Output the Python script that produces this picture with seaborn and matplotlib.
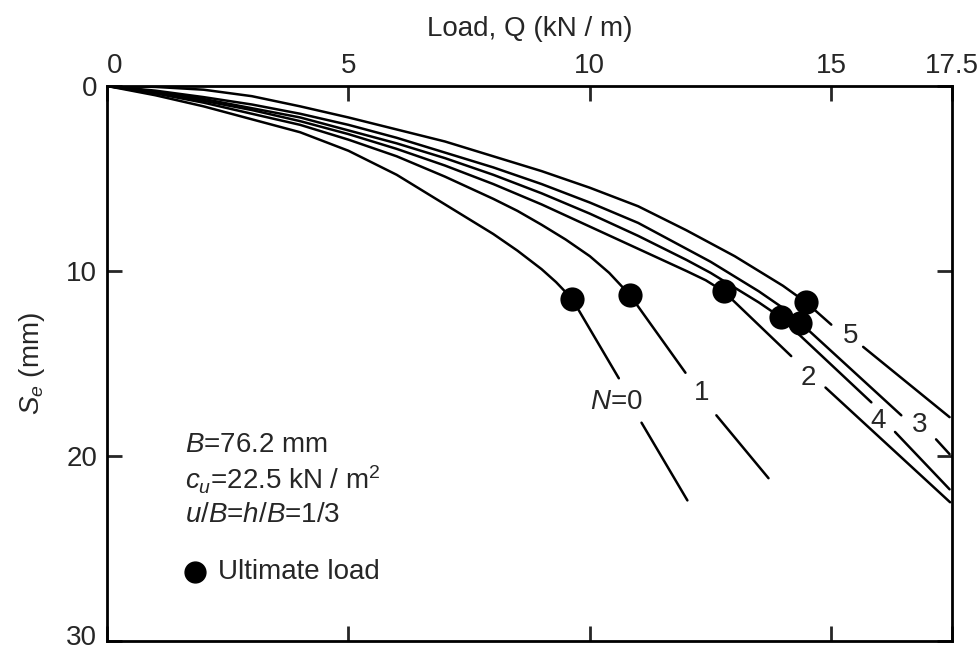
import matplotlib
matplotlib.use("Agg")
import matplotlib.pyplot as plt
from matplotlib.transforms import ScaledTranslation
import seaborn as sns

# Load Q (kN/m) vs settlement Se (mm); curves N = 0..5
n_labels = ["$N$=0", "1", "2", "3", "4", "5"]

q0 = [0, 1, 2, 3, 4, 5, 6, 7, 7.5, 8, 8.5, 9, 9.3, 9.63]
s0 = [0, 0.5, 1.1, 1.8, 2.5, 3.5, 4.8, 6.4, 7.2, 8.0, 8.9, 9.9, 10.6, 11.5]
q1 = [0, 1, 2, 3, 4, 5, 6, 7, 8, 8.5, 9, 9.5, 10, 10.4, 10.83]
s1 = [0, 0.4, 0.9, 1.5, 2.1, 2.9, 3.8, 4.9, 6.1, 6.75, 7.5, 8.3, 9.2, 10.1, 11.3]
q2 = [0, 1, 2, 3, 4, 5, 6, 7, 8, 9, 10, 10.5, 11, 11.5, 12, 12.4, 12.77]
s2 = [0, 0.35, 0.8, 1.3, 1.9, 2.6, 3.4, 4.3, 5.3, 6.4, 7.6, 8.2, 8.8, 9.4, 10.0, 10.5, 11.1]
q3 = [0, 1, 2, 3, 4, 5, 6, 7, 8, 9, 10, 11, 12, 12.5, 13, 13.5, 14, 14.36]
s3 = [0, 0.25, 0.6, 1.0, 1.5, 2.1, 2.8, 3.6, 4.4, 5.3, 6.3, 7.4, 8.8, 9.5, 10.3, 11.1, 12.0, 12.8]
q4 = [0, 1, 2, 3, 4, 5, 6, 7, 8, 9, 10, 11, 12, 12.5, 13, 13.5, 13.95]
s4 = [0, 0.3, 0.7, 1.2, 1.7, 2.4, 3.1, 3.9, 4.8, 5.8, 6.9, 8.1, 9.4, 10.1, 10.9, 11.7, 12.5]
q5 = [0, 1, 2, 3, 4, 5, 6, 7, 8, 9, 10, 11, 12, 12.5, 13, 13.5, 14, 14.48]
s5 = [0, 0.05, 0.2, 0.55, 1.1, 1.7, 2.35, 3.0, 3.8, 4.6, 5.5, 6.5, 7.8, 8.5, 9.2, 10.0, 10.8, 11.7]

# ultimate loads (dots)
ult_q = [9.63, 10.83, 12.77, 14.36, 13.95, 14.48]
ult_s = [11.5, 11.3, 11.1, 12.8, 12.5, 11.7]

# straight tails after the ultimate load, broken where the label sits
tail_a_q = [[9.63, 10.6], [10.83, 11.98], [12.77, 14.17], [14.36, 16.45], [13.95, 15.83], [14.48, 15.0]]
tail_a_s = [[11.5, 15.8], [11.3, 15.5], [11.1, 14.6], [12.8, 17.8], [12.5, 17.1], [11.7, 12.9]]
tail_b_q = [[11.07, 12.02], [12.62, 13.70], [14.88, 17.46], [17.17, 17.45], [16.32, 17.45], [15.66, 17.45]]
tail_b_s = [[18.2, 22.4], [17.8, 21.2], [16.3, 22.5], [19.1, 19.9], [18.7, 21.8], [14.1, 17.9]]

label_q = [10.54, 12.31, 14.52, 16.84, 15.97, 15.39]
label_s = [17.1, 16.6, 15.8, 18.3, 18.1, 13.5]

sns.set_style("white")
plt.rcParams["font.family"] = ["Liberation Sans", "DejaVu Sans"]
plt.rcParams["mathtext.fontset"] = "custom"
plt.rcParams["mathtext.rm"] = "Liberation Sans"
plt.rcParams["mathtext.it"] = "Liberation Sans:italic"
fs = 20

fig = plt.figure(figsize=(9.78, 6.5), dpi=100)
ax = fig.add_axes([107 / 978, 9 / 650, 845 / 978, 555 / 650])

lw = 1.8
for q, s in [(q0, s0), (q1, s1), (q2, s2), (q3, s3), (q4, s4), (q5, s5)]:
    sns.lineplot(x=q, y=s, ax=ax, color="black", lw=lw, sort=False, estimator=None)

for i in range(6):
    sns.lineplot(x=tail_a_q[i], y=tail_a_s[i], ax=ax, color="black", lw=lw, sort=False, estimator=None)
    sns.lineplot(x=tail_b_q[i], y=tail_b_s[i], ax=ax, color="black", lw=lw, sort=False, estimator=None)
    ax.text(label_q[i], label_s[i], n_labels[i], fontsize=fs, ha="center", va="center")

sns.scatterplot(x=ult_q, y=ult_s, ax=ax, s=260, color="black", edgecolor="black", zorder=5)

ax.set_xlim(0, 17.5)
ax.set_ylim(30, 0)
ax.xaxis.tick_top()
ax.xaxis.set_label_position("top")
ax.set_xticks([0, 5, 10, 15, 17.5])
ax.set_xticklabels(["0", "5", "10", "15", "17.5"])
ax.set_yticks([0, 10, 20, 30])
ax.tick_params(axis="x", direction="in", top=True, bottom=True, labeltop=True,
               labelbottom=False, length=11, width=2, labelsize=fs, pad=5)
ax.tick_params(axis="y", direction="in", left=True, right=True, length=11,
               width=2, labelsize=fs, pad=7)
ax.get_xticklabels()[0].set_ha("left")
# nudge the bottom "30" up so it stays inside the figure
lab30 = ax.get_yticklabels()[-1]
lab30.set_transform(lab30.get_transform() + ScaledTranslation(0, 4 / 72, fig.dpi_scale_trans))
for sp in ax.spines.values():
    sp.set_linewidth(2)
    sp.set_color("black")

ax.set_xlabel("Load, Q (kN / m)", fontsize=fs, labelpad=12)
ax.set_ylabel("$S_e$ (mm)", fontsize=fs, labelpad=14)

# parameter block and legend
ax.text(0.092, 0.353, "$B$=76.2 mm", transform=ax.transAxes, fontsize=fs, va="center")
ax.text(0.092, 0.290, "$c_u$=22.5 kN / m$^2$", transform=ax.transAxes, fontsize=fs, va="center")
ax.text(0.092, 0.227, "$u/B$=$h/B$=1/3", transform=ax.transAxes, fontsize=fs, va="center")
ax.plot([0.104], [0.124], "o", ms=15, color="black", transform=ax.transAxes)
ax.text(0.131, 0.124, "Ultimate load", transform=ax.transAxes, fontsize=fs, va="center")

plt.savefig("out.png", dpi=100)
plt.close()
